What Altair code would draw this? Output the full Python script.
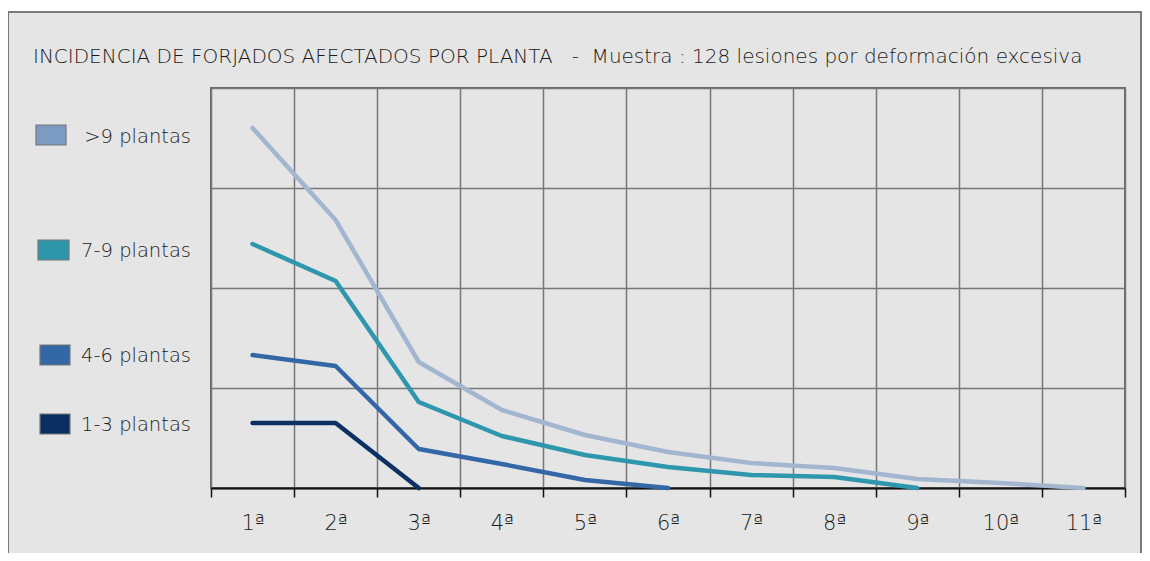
import altair as alt
import pandas as pd

plantas = ["1ª", "2ª", "3ª", "4ª", "5ª", "6ª", "7ª", "8ª", "9ª", "10ª", "11ª"]
series = [">9 plantas", "7-9 plantas", "4-6 plantas", "1-3 plantas"]
mas_9 = [36.0, 26.8, 12.6, 7.8, 5.3, 3.6, 2.5, 2.0, 0.9, 0.5, 0.0]
de_7_9 = [24.4, 20.7, 8.6, 5.2, 3.3, 2.1, 1.3, 1.1, 0.0]
de_4_6 = [13.3, 12.2, 3.9, 2.4, 0.8, 0.0]
de_1_3 = [6.5, 6.5, 0.0]
line_colors = ["#a3b6d0", "#2e97ad", "#3467a6", "#0c3064"]
swatch_colors = ["#7b9bc3", "#2e96ab", "#3467a6", "#0b2e60"]

title = "INCIDENCIA DE FORJADOS AFECTADOS POR PLANTA\u00a0\u00a0\u00a0-\u00a0\u00a0Muestra : 128 lesiones por deformación excesiva"
FONT = "DejaVu Sans"
TXT = "#1a1a1a"

rows = []
for name, vals in zip(series, [mas_9, de_7_9, de_4_6, de_1_3]):
    for p, v in zip(plantas, vals):
        rows.append({"planta": p, "valor": v, "serie": name})
df = pd.DataFrame(rows)

W, H = 914, 400
one = pd.DataFrame({"k": [0]})

top_strip = alt.Chart(one).mark_rect(fill="white", clip=False).encode(
    x=alt.value(-210), x2=alt.value(940), y=alt.value(-90), y2=alt.value(-76)
)
frame = alt.Chart(one).mark_rect(fill=None, stroke="#7a7a7a", strokeWidth=2, clip=False).encode(
    x=alt.value(-203), x2=alt.value(930), y=alt.value(-76), y2=alt.value(520)
)

title_mark = alt.Chart(one).mark_text(
    text=title, align="left", baseline="middle", font=FONT, fontSize=20,
    fontWeight=300, color=TXT
).encode(x=alt.value(-178), y=alt.value(-31))

lines = alt.Chart(df).mark_line(strokeWidth=4.5, strokeCap="round", strokeJoin="round").encode(
    x=alt.X("planta:N", sort=plantas,
            scale=alt.Scale(type="band", paddingInner=0, paddingOuter=0),
            axis=alt.Axis(title=None, tickBand="extent", grid=True, gridColor="#777",
                          gridWidth=1.5, gridOpacity=1, domainColor="#111", domainWidth=2,
                          tickColor="#111", tickSize=9, tickWidth=1.5, labelFont=FONT,
                          labelFontSize=21, labelFontWeight=300, labelColor=TXT,
                          labelPadding=15, labelAngle=0)),
    y=alt.Y("valor:Q", scale=alt.Scale(domain=[0, 40], nice=False),
            axis=alt.Axis(title=None, labels=False, ticks=False, domain=False, grid=True,
                          tickCount=4, gridColor="#777", gridWidth=1.5, gridOpacity=1)),
    color=alt.Color("serie:N", scale=alt.Scale(domain=series, range=line_colors), legend=None),
    detail="serie:N",
)

legend_layers = []
sw_x = [(-175, -145), (-173, -142), (-171, -141), (-171, -141)]
sw_y = [(37, 57), (152, 172), (257, 277), (326, 346)]
tx_y = [49, 163, 268, 337]
for i, name in enumerate(series):
    legend_layers.append(
        alt.Chart(one).mark_rect(fill=swatch_colors[i], stroke="#777", strokeWidth=1.2, clip=False).encode(
            x=alt.value(sw_x[i][0]), x2=alt.value(sw_x[i][1]),
            y=alt.value(sw_y[i][0]), y2=alt.value(sw_y[i][1]))
    )
    legend_layers.append(
        alt.Chart(one).mark_text(text=name, align="right", baseline="middle", font=FONT,
                                 fontSize=19.5, fontWeight=300, color=TXT).encode(
            x=alt.value(-20), y=alt.value(tx_y[i]))
    )

chart = alt.layer(top_strip, frame, title_mark, lines, *legend_layers).properties(
    width=W, height=H,
    autosize=alt.AutoSizeParams(type="none"),
    padding={"left": 203, "top": 80, "right": 17, "bottom": 65},
    background="#e5e5e5",
).configure_view(stroke="#666", strokeWidth=2)

chart.save("out.html", embed_options={"renderer": "svg", "actions": False})
